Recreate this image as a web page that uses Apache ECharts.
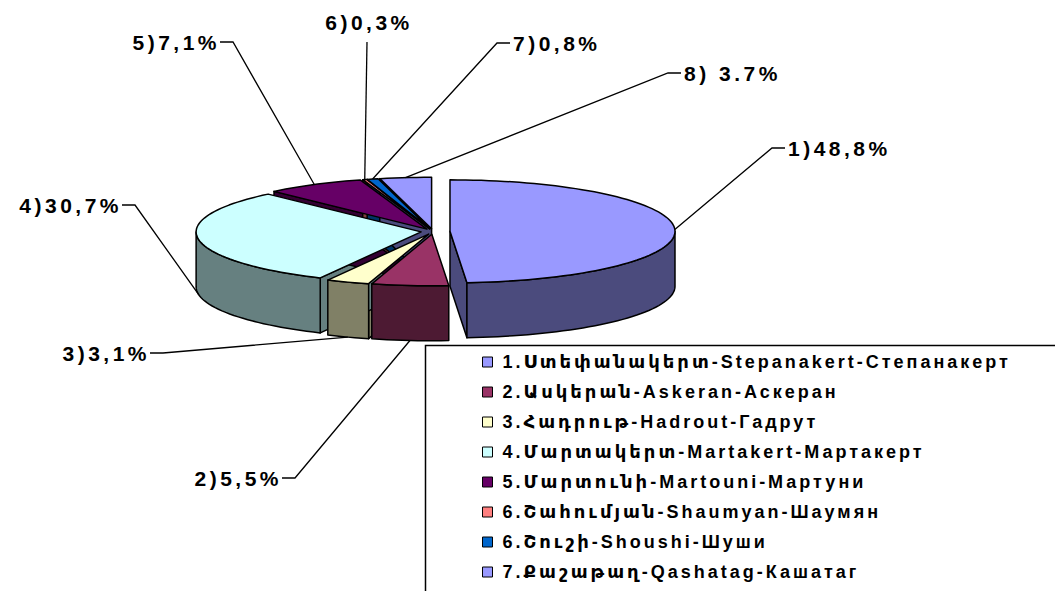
<!DOCTYPE html>
<html lang="hy">
<head>
    <meta charset="UTF-8">
    <title>pie</title>
    <script src="https://cdn.jsdelivr.net/npm/echarts@6/dist/echarts.min.js"></script>
    <style>
        html, body { margin: 0; padding: 0; background: #fff; }
        #main { width: 1055px; height: 591px; }
        /* Excel draws its text with extra spacing between the letters */
        #main text { letter-spacing: 3.5px; }
        #main text[style*="18px"] { letter-spacing: 3px; }
    </style>
</head>
<body>
<div id="main"></div>
<script type="text/javascript">
    // data
    var categories = [
        '1.Ստեփանակերտ-Stepanakert-Степанакерт',
        '2.Ասկերան-Askeran-Аскеран',
        '3.Հադրութ-Hadrout-Гадрут',
        '4.Մարտակերտ-Martakert-Мартакерт',
        '5.Մարտունի-Martouni-Мартуни',
        '6.Շահումյան-Shaumyan-Шаумян',
        '6.Շուշի-Shoushi-Шуши',
        '7.Քաշաթաղ-Qashatag-Кашатаг'
    ];
    var values = [48.8, 5.5, 3.1, 30.7, 7.1, 0.3, 0.8, 3.7];
    var labelTexts = ['1)48,8%', '2)5,5%', '3)3,1%', '4)30,7%', '5)7,1%', '6)0,3%', '7)0,8%', '8) 3.7%'];

    // styles / layout
    var topColors = ['#9999FF', '#993366', '#FFFFCC', '#CCFFFF', '#660066', '#FF8080', '#0066CC', '#9999FF'];
    var sideColors = ['#4B4B7D', '#4D1A33', '#808066', '#668080', '#330033', '#804040', '#003366', '#4B4B7D'];
    var explode = [17, 12, 12, 12, 12, 12, 12, 12];
    // elbow of each leader line: [x, y, direction of the text]
    var labelLayout = [
        [772, 148, 1], [295, 478, -1], [163, 353, -1], [135, 205, -1],
        [233, 42, -1], [367, 42, 0], [497, 43, 1], [668, 73, 1]
    ];
    var cx = 433, cy = 231.5, rx = 225, ry = 51.5, depth = 55;
    var font = 'Liberation Sans, Arial, DejaVu Sans, sans-serif';

    var total = values.reduce(function (a, b) { return a + b; }, 0);
    var starts = [];
    var acc = 0;
    for (var i = 0; i < values.length; i++) {
        starts.push(acc / total * 360);
        acc += values[i];
    }

    function pt(deg, ox, oy, dz) {
        var r = deg * Math.PI / 180;
        return [cx + ox + rx * Math.sin(r), cy + oy - ry * Math.cos(r) + dz];
    }

    function arc(a, b, ox, oy, dz) {
        var n = Math.max(2, Math.ceil(Math.abs(b - a) / 2));
        var pts = [];
        for (var k = 0; k <= n; k++) {
            pts.push(pt(a + (b - a) * k / n, ox, oy, dz));
        }
        return pts;
    }

    function makeRender(idx) {
        return function (params, api) {
            var start = starts[idx];
            var end = start + api.value(0) / total * 360;
            var mid = (start + end) / 2;
            var mr = mid * Math.PI / 180;
            var ox = explode[idx] * Math.sin(mr);
            var oy = -explode[idx] * Math.cos(mr) * ry / rx;
            var c = [cx + ox, cy + oy];
            var line = {stroke: '#000', lineWidth: 1.5, lineJoin: 'round'};
            var children = [];

            function face(deg) {
                var p = pt(deg, ox, oy, 0);
                children.push({
                    type: 'polygon', z2: 1,
                    shape: {points: [c, p, [p[0], p[1] + depth], [c[0], c[1] + depth]]},
                    style: Object.assign({fill: sideColors[idx]}, line)
                });
            }
            // cut faces that turn toward the viewer
            if (start > 180 && start < 360) face(start);
            if (end > 0 && end < 180) face(end);

            // outer wall on the front half
            var a = Math.max(start, 90), b = Math.min(end, 270);
            if (b > a) {
                var wall = arc(a, b, ox, oy, 0).concat(arc(b, a, ox, oy, depth));
                children.push({
                    type: 'polygon', z2: 2,
                    shape: {points: wall},
                    style: Object.assign({fill: sideColors[idx]}, line)
                });
            }

            // top
            children.push({
                type: 'polygon', z2: 3,
                shape: {points: [c].concat(arc(start, end, ox, oy, 0))},
                style: Object.assign({fill: topColors[idx]}, line)
            });

            // leader line and label
            var anchor = pt(mid, ox, oy, (mid > 90 && mid < 270) ? depth : 0);
            var lay = labelLayout[idx];
            var dir = lay[2];
            var pts;
            var tx, ty, align;
            if (dir === 0) {
                pts = [anchor, [lay[0], lay[1]]];
                tx = lay[0] + 2; ty = lay[1] - 20; align = 'center';
            } else {
                pts = [anchor, [lay[0], lay[1]], [lay[0] + 13 * dir, lay[1]]];
                tx = lay[0] + 16 * dir + (dir < 0 ? 3 : 0); ty = lay[1];
                align = dir > 0 ? 'left' : 'right';
            }
            children.push({
                type: 'polyline', z2: 5,
                shape: {points: pts},
                style: {stroke: '#000', lineWidth: 1.3, fill: null}
            });
            children.push({
                type: 'text', z2: 6,
                style: {
                    text: labelTexts[idx], x: tx, y: ty,
                    align: align, verticalAlign: 'middle',
                    fill: '#000', font: 'bold 21px ' + font
                }
            });

            return {type: 'group', children: children};
        };
    }

    var myChart = echarts.init(document.getElementById('main'), null, {renderer: 'svg'});

    var series = [];
    for (var j = 0; j < values.length; j++) {
        series.push({
            type: 'custom',
            name: categories[j],
            coordinateSystem: 'none',
            silent: true,
            itemStyle: {color: topColors[j]},
            data: [[values[j]]],
            renderItem: makeRender(j)
        });
    }

    var option = {
        backgroundColor: '#fff',
        animation: false,
        legend: {
            orient: 'vertical',
            left: 482,
            top: 352,
            padding: 0,
            itemWidth: 10,
            itemHeight: 10,
            itemGap: 10,
            icon: 'rect',
            selectedMode: false,
            itemStyle: {borderColor: '#000', borderWidth: 1},
            textStyle: {
                fontSize: 18, fontWeight: 'bold', fontFamily: font,
                color: '#000', lineHeight: 20, padding: [0, 0, 0, 5]
            },
            data: categories
        },
        graphic: [{
            type: 'rect',
            shape: {x: 425.5, y: 345.5, width: 700, height: 300},
            style: {fill: 'none', stroke: '#000', lineWidth: 1.5}
        }],
        series: series
    };

    myChart.setOption(option);
</script>
</body>
</html>
